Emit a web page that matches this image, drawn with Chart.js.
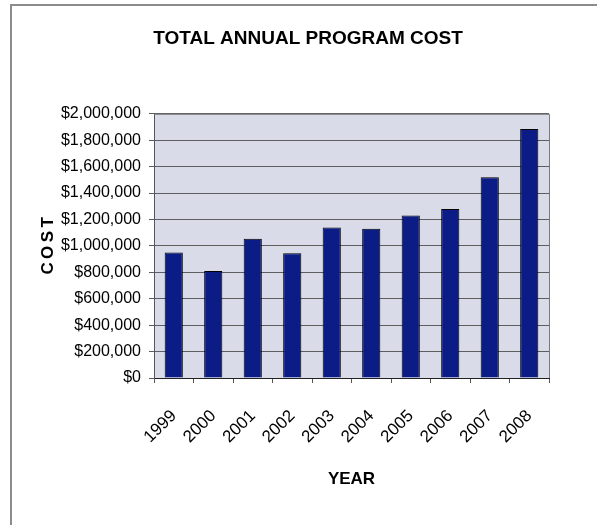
<!DOCTYPE html>
<html lang="en">
<head>
    <meta charset="UTF-8">
    <title>TOTAL ANNUAL PROGRAM COST</title>
    <script src="https://cdn.jsdelivr.net/npm/chart.js"></script>
    <style>
        html, body { margin: 0; padding: 0; background: #fff; overflow: hidden; }
        #moldura {
            position: absolute; left: 10px; top: 4px; width: 600px; height: 540px;
            border-left: 2px solid #8c8c8c; border-top: 2px solid #8c8c8c;
        }
        #grafico { position: absolute; left: 0; top: 0; }
    </style>
</head>
<body>
    <div id="moldura"></div>
    <canvas id="grafico" width="597" height="525"></canvas>

<script>
// anos e custo total de cada ano
const anos = ['1999', '2000', '2001', '2002', '2003', '2004', '2005', '2006', '2007', '2008'];
const custos = [950000, 810000, 1055000, 945000, 1140000, 1130000, 1230000, 1280000, 1520000, 1885000];
const escalaMin = 0;
const escalaMax = 2000000;
const escalaPasso = 200000;

const fonteTexto = '"Liberation Sans", Arial, sans-serif';

// fundo cinza-azulado da área do gráfico e a borda em volta
const fundoArea = {
    id: 'fundoArea',
    beforeDraw(chart) {
        const { ctx, chartArea: a } = chart;
        ctx.save();
        ctx.fillStyle = '#d9dbe8';
        ctx.fillRect(a.left, a.top, a.right - a.left, a.bottom - a.top);
        ctx.restore();
    },
    beforeDatasetsDraw(chart) {
        const { ctx, chartArea: a } = chart;
        ctx.save();
        ctx.strokeStyle = '#7a7a7a';
        ctx.lineWidth = 1;
        ctx.beginPath();
        ctx.moveTo(a.left, a.top + 0.5);
        ctx.lineTo(a.right + 0.5, a.top + 0.5);
        ctx.lineTo(a.right + 0.5, a.bottom);
        ctx.stroke();
        ctx.restore();
    }
};

const dados = {
    labels: anos,
    datasets: [{
        label: 'Custo',
        data: custos,
        backgroundColor: '#0b1c86',
        borderColor: '#000000',
        borderWidth: 1,
        barPercentage: 0.46,
        categoryPercentage: 1
    }]
};

const config = {
    type: 'bar',
    data: dados,
    plugins: [fundoArea],
    options: {
        responsive: false,
        animation: false,
        layout: { padding: { left: 19, right: 0, top: 27, bottom: 0 } },
        plugins: {
            legend: { display: false },
            tooltip: { enabled: false },
            title: {
                display: true,
                text: 'TOTAL ANNUAL PROGRAM COST',
                color: '#000',
                font: { family: fonteTexto, size: 19, weight: 'bold', lineHeight: 1.2 },
                padding: { top: 0, bottom: 64 }
            }
        },
        scales: {
            x: {
                grid: { display: true, drawOnChartArea: false, offset: true, color: '#555', tickLength: 5 },
                border: { color: '#222', width: 1 },
                ticks: {
                    color: '#000',
                    maxRotation: 45, minRotation: 45,
                    padding: 23,
                    font: { family: fonteTexto, size: 17 }
                },
                title: {
                    display: true,
                    text: 'YEAR',
                    color: '#000',
                    font: { family: fonteTexto, size: 17, weight: 'bold', lineHeight: 1.2 },
                    padding: { top: 0, bottom: 35 }
                },
                afterFit(scale) { scale.height = 147; }
            },
            y: {
                min: escalaMin,
                max: escalaMax,
                grid: { color: '#5e5e5e', tickLength: 5 },
                border: { color: '#555', width: 1 },
                ticks: {
                    stepSize: escalaPasso,
                    color: '#000',
                    padding: 8,
                    font: { family: fonteTexto, size: 16 },
                    callback: function (valor) {
                        return '$' + Number(valor).toLocaleString('en-US');
                    }
                },
                title: {
                    display: true,
                    text: 'C\u2009O\u2009S\u2009T',
                    color: '#000',
                    font: { family: fonteTexto, size: 17, weight: 'bold', lineHeight: 1.2 },
                    padding: { top: 19, bottom: 0 }
                },
                afterFit(scale) { scale.width = 135; }
            },
            // espaço vazio à direita da área do gráfico
            margemDireita: {
                position: 'right',
                min: escalaMin,
                max: escalaMax,
                grid: { display: false },
                border: { display: false },
                ticks: { display: false },
                afterFit(scale) { scale.width = 48; }
            }
        }
    }
};

let grafico = new Chart(document.getElementById('grafico'), config);
</script>
</body>
</html>
